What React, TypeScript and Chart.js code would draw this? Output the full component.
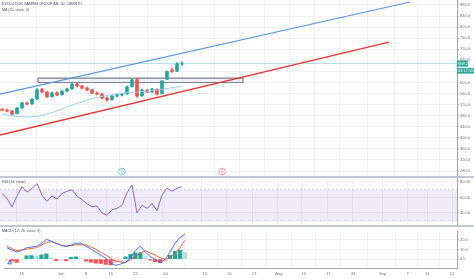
import React, { useEffect, useRef } from "react";
import { Chart, registerables } from "chart.js";

Chart.register(...registerables);

// ---- DATA ----
const opens = [503, 500, 497, 487, 508, 526, 523, 540, 574, 565, 549, 562, 556, 569, 577, 594, 587, 580, 573, 561, 558, 544, 538, 551, 555, 559, 585, 610, 552, 572, 566, 575, 560, 612, 645, 641, 667];
const highs = [506, 504, 499, 510, 528, 530, 542, 578, 579, 568, 565, 566, 571, 580, 598, 597, 590, 583, 575, 566, 560, 548, 553, 558, 561, 587, 612, 616, 576, 575, 579, 577, 607, 642, 652, 672, 675];
const lows = [497, 494, 484, 486, 506, 519, 521, 538, 562, 546, 547, 552, 554, 566, 575, 584, 577, 570, 559, 555, 541, 532, 536, 548, 551, 557, 583, 547, 550, 563, 564, 555, 559, 610, 636, 639, 662];
const closes = [500.5, 497, 486, 508, 526, 522, 540, 574, 566, 548, 562, 555, 569, 576, 594, 587, 580, 573, 562, 558, 544, 537, 551, 555, 558, 584, 609, 551, 573, 566, 576, 558, 605, 640, 640, 667, 668.2];
const ma20 = [486, 483, 480, 477, 476, 475, 476, 478, 481, 486, 491, 497, 504, 511, 518, 524, 530, 536, 541, 546, 550, 553, 556, 559, 561, 563, 565, 566, 567, 569, 571, 573, 575, 578, 581, 584, 587];
const rsi14 = [65, 59, 48, 62, 74, 67, 72, 78, 63, 55, 62, 58, 65, 68, 70, 62, 57, 52, 48, 49, 40, 37, 44, 46, 50, 66, 76, 40, 50, 46, 52, 43, 63, 72, 68, 72, 74];
const macdLine = [11.8, 9.5, 7.3, 9, 11.8, 12.5, 13.3, 16, 20.5, 18.5, 16.4, 14, 13.3, 14.5, 16.4, 16.4, 13.3, 10.5, 7.3, 4, 1.2, -4, -6.4, -5, -3.3, 1.2, 9, 13.3, 7.3, 2.7, -0.3, -3.3, -0.3, 7.3, 16.4, 22.4, 25.5];
const signalLine = [13.6, 11, 8.8, 9.5, 10.3, 11, 11.8, 14.5, 17.5, 17.9, 16.4, 14.5, 13.3, 14, 14.8, 14.8, 14.8, 12.5, 10.3, 7, 4.2, 1, -1.8, -3, -3.3, -0.5, 2.7, 6, 8.8, 6.5, 4.2, 1.5, -0.3, 1.2, 6, 11.8, 19.4];
const histogram = [-1.5, -2, -3.3, -0.5, 3.5, 3.8, 3.0, 4.5, 5.5, 1.5, -1.5, -1.0, -1.5, 2.0, 2.5, 0.5, -2.0, -3.0, -4.0, -4.5, -5.5, -5.8, -3.5, -1.5, 2.5, 5.0, 6.5, 6.8, 2.5, -1.0, -2.5, -3.5, -2.0, 4.0, 8.0, 9.0, 7.0];

const timeTickPos = [3, 11, 16, 21, 26, 32, 40, 45, 50, 55, 60, 65, 70, 76, 81, 85, 90];
const timeTickLabels = ["18", "Jun", "8", "15", "22", "Jul", "13", "20", "27", "Aug", "10", "17", "24", "Sep", "7", "14", "21"];
const priceTicks = [280, 320, 360, 400, 440, 480, 520, 560, 600, 640, 680, 720, 760, 800, 840, 880];
const rsiTicks = [40, 60, 80];
const macdTicks = [0, 10, 20];

const blueChannel = [{ x: -0.4, y: 558 }, { x: 81.6, y: 891 }];
const redChannel = [{ x: -0.4, y: 410 }, { x: 77.4, y: 746 }];
const zoneX = [7.2, 48.2];
const zonePrice = [600, 616];
const lastPrice = 668.2;
const countdown = "03:12:58";
const eventIdx = [24, 44];
const eventText = ["D", "E"];
const rsiBand = [30, 70];
const macdMarker = [{ x: 0.6, y: -3.6 }];

const TITLE = "EVOLUTION GAMING GROUP AB, 1D, OMXSTO";
const MA_TITLE = "MA (20, close, 0)";
const RSI_TITLE = "RSI (14, close)";
const MACD_TITLE = "MACD (12, 26, close, 9)";

// ---- STYLE ----
const FONT = "'Liberation Sans', Arial, sans-serif";
const GRID = "#eceef3";
const AXIS = "#a3a6af";
const LABEL = "#6b6e78";
const UP = "#26a69a";
const DOWN = "#ef5350";
const XMIN = -0.4;
const XMAX = 91;

const barIdx = closes.map((_, i) => i);

function xScale(showLabels: boolean) {
  return {
    type: "linear",
    min: XMIN,
    max: XMAX,
    offset: false,
    afterBuildTicks: (s: any) => {
      s.ticks = timeTickPos.map((v) => ({ value: v }));
    },
    ticks: {
      display: showLabels,
      autoSkip: false,
      maxRotation: 0,
      padding: 3,
      font: { size: 4, family: FONT },
      color: LABEL,
      callback: (v: any) => {
        const k = timeTickPos.indexOf(Number(v));
        return k >= 0 ? timeTickLabels[k] : "";
      },
    },
    grid: { color: GRID, drawTicks: false, lineWidth: 0.8 },
    border: { display: showLabels, color: AXIS, width: 1 },
    afterFit: (s: any) => {
      s.paddingLeft = 0;
      s.paddingRight = 0;
      s.height = showLabels ? 11 : 0;
    },
  };
}

function yScale(min: number, max: number, ticks: number[], digits: number) {
  return {
    position: "right",
    min,
    max,
    afterBuildTicks: (s: any) => {
      s.ticks = ticks.map((v) => ({ value: v }));
    },
    ticks: {
      padding: 1,
      font: { size: 4, family: FONT },
      color: LABEL,
      callback: (v: any) => Number(v).toFixed(digits),
    },
    grid: { color: GRID, tickLength: 2, tickColor: AXIS, lineWidth: 0.8 },
    border: { color: AXIS, width: 1 },
    afterFit: (s: any) => {
      s.width = 17;
      s.paddingTop = 0;
      s.paddingBottom = 0;
    },
  };
}

const baseOptions = {
  responsive: false,
  animation: false,
  devicePixelRatio: 1,
  layout: { padding: 0 },
  plugins: { legend: { display: false }, tooltip: { enabled: false }, title: { display: false } },
  events: [],
};

const pricePlugin = {
  id: "priceExtras",
  afterDatasetsDraw(chart: any) {
    const { ctx, chartArea, scales } = chart;
    const colors = ["#4fbfe0", "#f07a98"];
    eventIdx.forEach((idx, k) => {
      const x = scales.x.getPixelForValue(idx);
      const y = chartArea.bottom - 4.5;
      ctx.save();
      ctx.beginPath();
      ctx.arc(x, y, 3.3, 0, Math.PI * 2);
      ctx.fillStyle = "#fff";
      ctx.fill();
      ctx.lineWidth = 0.8;
      ctx.strokeStyle = colors[k];
      ctx.stroke();
      ctx.fillStyle = colors[k];
      ctx.font = `4px ${FONT}`;
      ctx.textAlign = "center";
      ctx.textBaseline = "middle";
      ctx.fillText(eventText[k], x, y + 0.3);
      ctx.restore();
    });
  },
  afterDraw(chart: any) {
    const { ctx, chartArea, scales } = chart;
    const y = scales.y.getPixelForValue(lastPrice);
    const x0 = chartArea.right;
    ctx.save();
    ctx.fillStyle = UP;
    ctx.fillRect(x0, y - 3, 11, 6);
    ctx.fillRect(x0, y + 4.5, 17, 5.5);
    ctx.fillStyle = "#fff";
    ctx.font = `4px ${FONT}`;
    ctx.textAlign = "left";
    ctx.textBaseline = "middle";
    ctx.fillText(lastPrice.toFixed(1), x0 + 1, y + 0.2);
    ctx.fillText(countdown, x0 + 0.8, y + 7.4);
    ctx.restore();
  },
};

function histColor(i: number) {
  const v = histogram[i];
  const p = i > 0 ? histogram[i - 1] : v;
  if (v >= 0) return v >= p ? UP : "#b2dfdb";
  return v < p ? "#ff5252" : "#ffcdd2";
}

export default function App() {
  const priceRef = useRef<HTMLCanvasElement | null>(null);
  const rsiRef = useRef<HTMLCanvasElement | null>(null);
  const macdRef = useRef<HTMLCanvasElement | null>(null);

  useEffect(() => {
    document.body.style.margin = "0";
    const candleColors = barIdx.map((i) => (closes[i] >= opens[i] ? UP : DOWN));

    const priceChart = new Chart(priceRef.current as any, {
      type: "bar",
      data: {
        datasets: [
          {
            type: "line",
            data: [
              { x: zoneX[0], y: zonePrice[0] },
              { x: zoneX[0], y: zonePrice[1] },
              { x: zoneX[1], y: zonePrice[1] },
              { x: zoneX[1], y: zonePrice[0] },
              { x: zoneX[0], y: zonePrice[0] },
            ],
            borderColor: "#7d818d",
            borderWidth: 1.2,
            backgroundColor: "rgba(160,175,215,0.18)",
            fill: "shape",
            pointRadius: 0,
            order: 6,
          },
          {
            type: "line",
            data: [{ x: XMIN, y: lastPrice }, { x: XMAX, y: lastPrice }],
            borderColor: "#9fd6dc",
            borderWidth: 0.8,
            pointRadius: 0,
            order: 5,
          },
          {
            type: "bar",
            data: barIdx.map((i) => ({ x: i, y: [lows[i], highs[i]] })),
            backgroundColor: candleColors,
            barThickness: 1,
            grouped: false,
            order: 4,
          },
          {
            type: "bar",
            data: barIdx.map((i) => ({ x: i, y: [opens[i], closes[i]] })),
            backgroundColor: candleColors,
            barThickness: 3,
            grouped: false,
            order: 3,
          },
          {
            type: "line",
            data: barIdx.map((i) => ({ x: i, y: ma20[i] })),
            borderColor: "#9ccbf3",
            borderWidth: 1,
            pointRadius: 0,
            tension: 0.3,
            order: 2,
          },
          {
            type: "line",
            data: blueChannel,
            borderColor: "#5b95dc",
            borderWidth: 1.1,
            pointRadius: 0,
            order: 1,
          },
          {
            type: "line",
            data: redChannel,
            borderColor: "#e53935",
            borderWidth: 1.4,
            pointRadius: 0,
            order: 1,
          },
        ],
      } as any,
      options: {
        ...baseOptions,
        scales: {
          x: xScale(false),
          y: yScale(262, 898.07, priceTicks, 1),
        },
      } as any,
      plugins: [pricePlugin as any],
    });

    const rsiChart = new Chart(rsiRef.current as any, {
      type: "line",
      data: {
        datasets: [
          {
            data: [
              { x: XMIN, y: rsiBand[1] },
              { x: XMAX, y: rsiBand[1] },
              { x: XMAX, y: rsiBand[0] },
              { x: XMIN, y: rsiBand[0] },
              { x: XMIN, y: rsiBand[1] },
            ],
            borderColor: "rgba(0,0,0,0)",
            borderWidth: 0,
            backgroundColor: "rgba(126,87,194,0.12)",
            fill: "shape",
            pointRadius: 0,
            order: 3,
          },
          {
            data: [{ x: XMIN, y: rsiBand[1] }, { x: XMAX, y: rsiBand[1] }],
            borderColor: "rgba(120,123,134,0.45)",
            borderWidth: 0.6,
            borderDash: [2, 2],
            pointRadius: 0,
            order: 2,
          },
          {
            data: [{ x: XMIN, y: rsiBand[0] }, { x: XMAX, y: rsiBand[0] }],
            borderColor: "rgba(120,123,134,0.45)",
            borderWidth: 0.6,
            borderDash: [2, 2],
            pointRadius: 0,
            order: 2,
          },
          {
            data: barIdx.map((i) => ({ x: i, y: rsi14[i] })),
            borderColor: "#7e57c2",
            borderWidth: 0.9,
            pointRadius: 0,
            order: 1,
          },
        ],
      } as any,
      options: {
        ...baseOptions,
        scales: {
          x: xScale(false),
          y: yScale(24.5, 85.16, rsiTicks, 2),
        },
      } as any,
    });

    const macdChart = new Chart(macdRef.current as any, {
      type: "bar",
      data: {
        datasets: [
          {
            type: "bar",
            data: barIdx.map((i) => ({ x: i, y: histogram[i] })),
            backgroundColor: barIdx.map((i) => histColor(i)),
            barThickness: 3.5,
            grouped: false,
            order: 4,
          },
          {
            type: "line",
            data: barIdx.map((i) => ({ x: i, y: macdLine[i] })),
            borderColor: "#2962ff",
            borderWidth: 0.9,
            pointRadius: 0,
            order: 2,
          },
          {
            type: "line",
            data: barIdx.map((i) => ({ x: i, y: signalLine[i] })),
            borderColor: "#f4511e",
            borderWidth: 0.9,
            pointRadius: 0,
            order: 3,
          },
          {
            type: "line",
            data: macdMarker,
            showLine: false,
            pointStyle: "triangle",
            pointRadius: 2.4,
            pointBackgroundColor: "rgba(41,98,255,0.25)",
            pointBorderColor: "#2962ff",
            pointBorderWidth: 0.8,
            order: 1,
          },
        ],
      } as any,
      options: {
        ...baseOptions,
        scales: {
          x: xScale(true),
          y: yScale(-9.1, 28.2, macdTicks, 1),
        },
      } as any,
    });

    return () => {
      priceChart.destroy();
      rsiChart.destroy();
      macdChart.destroy();
    };
  }, []);

  const txt = (top: number, left: number, size: number, text: string) => (
    <div
      style={{
        position: "absolute",
        top,
        left,
        fontSize: size,
        lineHeight: `${size}px`,
        fontFamily: FONT,
        color: "#4c4f59",
        whiteSpace: "nowrap",
        pointerEvents: "none",
      }}
    >
      {text}
    </div>
  );

  return (
    <div style={{ position: "fixed", left: 0, top: 0, width: 474, height: 279, background: "#fff", overflow: "hidden" }}>
      <canvas ref={priceRef} width={474} height={176} style={{ position: "absolute", left: 0, top: 0 }} />
      <div style={{ position: "absolute", left: 0, top: 176, width: 474, height: 2, background: "#c3c6ce" }} />
      <canvas ref={rsiRef} width={474} height={47} style={{ position: "absolute", left: 0, top: 178 }} />
      <div style={{ position: "absolute", left: 0, top: 225, width: 474, height: 1.5, background: "#c3c6ce" }} />
      <canvas ref={macdRef} width={474} height={52} style={{ position: "absolute", left: 0, top: 227 }} />
      {txt(3, 2, 3.6, TITLE)}
      {txt(8.5, 2, 3.6, MA_TITLE)}
      {txt(180.5, 2, 3.6, RSI_TITLE)}
      {txt(229.5, 2, 3.6, MACD_TITLE)}
    </div>
  );
}
